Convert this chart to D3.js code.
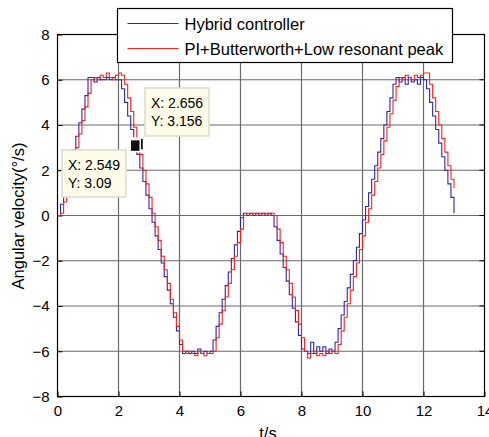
<!DOCTYPE html>
<html>
<head>
<meta charset="utf-8">
<script src="https://cdn.jsdelivr.net/npm/d3@7"></script>
<style>
  body { margin: 0; background: #fff; }
  text { font-family: "Liberation Sans", Arial, sans-serif; fill: #000; }
</style>
</head>
<body>
<svg id="chart" width="489" height="437"></svg>
<script>
// sampling period of both recordings (s)
const sampleStep = 0.1;

// angular velocity (deg/s), one value per sample from t = 0 to 13 s
const hybrid = [
  0.0, 0.5, 1.1, 1.7, 2.3, 2.9, 3.5, 4.1, 4.7, 5.3,
  6.1, 6.1, 5.9, 6.1, 6.0, 6.0, 6.1, 6.0, 6.1, 6.0,
  6.0, 5.6, 5.0, 4.4, 3.8, 3.3, 2.7, 2.1, 1.5, 0.9,
  0.3, -0.3, -0.9, -1.5, -2.1, -2.7, -3.3, -3.9, -4.5, -5.1,
  -5.7, -6.1, -6.0, -6.1, -6.0, -6.1, -5.9, -6.1, -6.0, -6.1,
  -6.0, -5.5, -4.9, -4.3, -3.7, -3.1, -2.5, -1.9, -1.3, -0.7,
  -0.1, 0.1, 0.0, 0.1, 0.0, 0.1, 0.0, 0.1, 0.0, 0.1,
  0.0, -0.5, -1.1, -1.7, -2.3, -2.9, -3.5, -4.1, -4.7, -5.3,
  -5.9, -6.0, -6.1, -5.6, -6.1, -5.8, -6.0, -5.8, -6.1, -5.9,
  -6.0, -5.6, -5.0, -4.4, -3.8, -3.2, -2.6, -2.0, -1.4, -0.8,
  -0.2, 0.4, 1.0, 1.6, 2.2, 2.8, 3.4, 4.0, 4.6, 5.2,
  5.8, 6.1, 5.9, 6.1, 5.8, 6.1, 5.9, 6.0, 5.8, 6.1,
  6.0, 5.6, 5.0, 4.4, 3.8, 3.2, 2.6, 2.0, 1.4, 0.8,
  0.1
];

const piButter = [
  0.0, 0.1, 0.6, 1.2, 1.8, 2.4, 3.0, 3.6, 4.2, 4.8,
  5.4, 6.0, 6.1, 6.0, 6.2, 6.1, 6.3, 6.1, 6.0, 6.2,
  6.3, 6.2, 5.8, 5.2, 4.6, 3.9, 3.3, 2.7, 2.0, 1.4,
  0.8, 0.1, -0.5, -1.1, -1.8, -2.4, -3.0, -3.7, -4.3, -4.9,
  -5.5, -6.0, -6.1, -6.0, -6.1, -6.2, -6.0, -6.1, -6.2, -6.1,
  -6.1, -6.0, -5.4, -4.8, -4.2, -3.6, -3.0, -2.4, -1.8, -1.2,
  -0.6, 0.0, 0.1, 0.0, 0.1, 0.0, 0.1, 0.0, 0.1, 0.0,
  0.1, 0.0, -0.6, -1.2, -1.8, -2.4, -3.0, -3.6, -4.2, -4.8,
  -5.4, -6.0, -6.3, -6.1, -6.0, -6.2, -6.1, -6.2, -6.0, -6.1,
  -6.0, -6.1, -5.7, -5.1, -4.5, -3.9, -3.3, -2.7, -2.1, -1.5,
  -0.9, -0.3, 0.3, 0.9, 1.5, 2.1, 2.7, 3.3, 3.9, 4.5,
  5.1, 5.7, 6.1, 6.0, 6.2, 6.1, 6.0, 6.2, 6.1, 6.2,
  6.3, 6.3, 5.8, 5.2, 4.6, 4.0, 3.4, 2.8, 2.2, 1.6,
  1.2
];

const seriesNames = ['Hybrid controller', 'PI+Butterworth+Low resonant peak'];
const seriesColors = ['#2b2ba6', '#ff1f1f'];

const xTicks = [0, 2, 4, 6, 8, 10, 12, 14];
const yTicks = [-8, -6, -4, -2, 0, 2, 4, 6, 8];

// data tips: [t, value, label x, label y]
const tipBlue = { t: 2.549, v: 3.09 };
const tipRed = { t: 2.656, v: 3.156 };

const svg = d3.select('#chart');

let x = d3.scaleLinear().domain([0, 14]).range([57.5, 484.5]);
let y = d3.scaleLinear().domain([-8, 8]).range([396.5, 34.5]);

// grid
svg.append('g').selectAll('line')
    .data(xTicks.slice(1, -1))
    .enter().append('line')
    .attr('x1', d => x(d)).attr('x2', d => x(d))
    .attr('y1', y(8)).attr('y2', y(-8))
    .attr('stroke', '#6a6a6a').attr('stroke-width', 1.2);

svg.append('g').selectAll('line')
    .data(yTicks.slice(1, -1))
    .enter().append('line')
    .attr('x1', x(0)).attr('x2', x(14))
    .attr('y1', d => y(d)).attr('y2', d => y(d))
    .attr('stroke', '#6a6a6a').attr('stroke-width', 1.2);

// axes (ticks inward, labels outside)
let xAxis = d3.axisBottom(x).tickValues(xTicks).tickSize(-5).tickPadding(9).tickFormat(d3.format('d'));
let yAxis = d3.axisLeft(y).tickValues(yTicks).tickSize(-5).tickPadding(8).tickFormat(d3.format('d'));

svg.append('g')
    .attr('transform', 'translate(0,' + y(-8) + ')')
    .call(xAxis)
    .call(g => g.select('.domain').remove())
    .selectAll('text').style('font-size', '15px').attr('fill', '#000');

svg.append('g')
    .attr('transform', 'translate(' + x(0) + ',0)')
    .call(yAxis)
    .call(g => g.select('.domain').remove())
    .selectAll('text').style('font-size', '15px').attr('fill', '#000');

svg.selectAll('.tick line').attr('stroke', '#000');

// top / right ticks
svg.append('g').selectAll('line')
    .data(xTicks)
    .enter().append('line')
    .attr('x1', d => x(d)).attr('x2', d => x(d))
    .attr('y1', y(8)).attr('y2', y(8) + 5)
    .attr('stroke', '#000');

svg.append('g').selectAll('line')
    .data(yTicks)
    .enter().append('line')
    .attr('x1', x(14)).attr('x2', x(14) - 5)
    .attr('y1', d => y(d)).attr('y2', d => y(d))
    .attr('stroke', '#000');

// series
let line = d3.line()
    .x((d, i) => x(i * sampleStep))
    .y(d => y(d))
    .curve(d3.curveStepAfter);

[hybrid, piButter].forEach(function (s, k) {
  svg.append('path')
      .datum(s)
      .attr('fill', 'none')
      .attr('stroke', seriesColors[k])
      .attr('stroke-width', 1.1)
      .attr('d', line);
});

// box
svg.append('rect')
    .attr('x', x(0)).attr('y', y(8))
    .attr('width', x(14) - x(0)).attr('height', y(-8) - y(8))
    .attr('fill', 'none').attr('stroke', '#000').attr('stroke-width', 1.2);

// axis labels
svg.append('text')
    .attr('x', 268).attr('y', 439)
    .attr('text-anchor', 'middle')
    .style('font-size', '16.5px')
    .text('t/s');

svg.append('text')
    .attr('transform', 'translate(24,' + 216 + ') rotate(-90)')
    .attr('text-anchor', 'middle')
    .style('font-size', '16.5px')
    .text('Angular velocity(°/s)');

// data tip markers
[tipRed, tipBlue].forEach(function (p) {
  svg.append('rect')
      .attr('x', x(p.t) - 5).attr('y', y(p.v) - 6)
      .attr('width', 10).attr('height', 12)
      .attr('fill', '#111').attr('stroke', '#fff').attr('stroke-width', 1.5);
});

// data tip boxes
function dataTip (p, bx, by, bw, bh) {
  let g = svg.append('g').attr('transform', 'translate(' + bx + ',' + by + ')');
  g.append('rect')
      .attr('width', bw).attr('height', bh)
      .attr('fill', '#fffbe9').attr('stroke', '#dcdccc').attr('stroke-width', 1.5);
  g.append('text').attr('x', 6).attr('y', 20).style('font-size', '14px').attr('fill', '#222')
      .text('X: ' + p.t);
  g.append('text').attr('x', 6).attr('y', 38).style('font-size', '14px').attr('fill', '#222')
      .text('Y: ' + p.v);
}
dataTip(tipRed, 145, 88, 64, 48);
dataTip(tipBlue, 62, 150, 64, 47);

// legend
let leg = svg.append('g').attr('transform', 'translate(117.5,8.5)');
leg.append('rect')
    .attr('width', 335).attr('height', 54)
    .attr('fill', '#fff').attr('stroke', '#000').attr('stroke-width', 1.2);
seriesNames.forEach(function (name, k) {
  leg.append('line')
      .attr('x1', 10).attr('x2', 61)
      .attr('y1', 15 + k * 25).attr('y2', 15 + k * 25)
      .attr('stroke', seriesColors[k]).attr('stroke-width', 1);
  leg.append('text')
      .attr('x', 67).attr('y', 21 + k * 25)
      .style('font-size', '16.5px')
      .text(name);
});
</script>
</body>
</html>
